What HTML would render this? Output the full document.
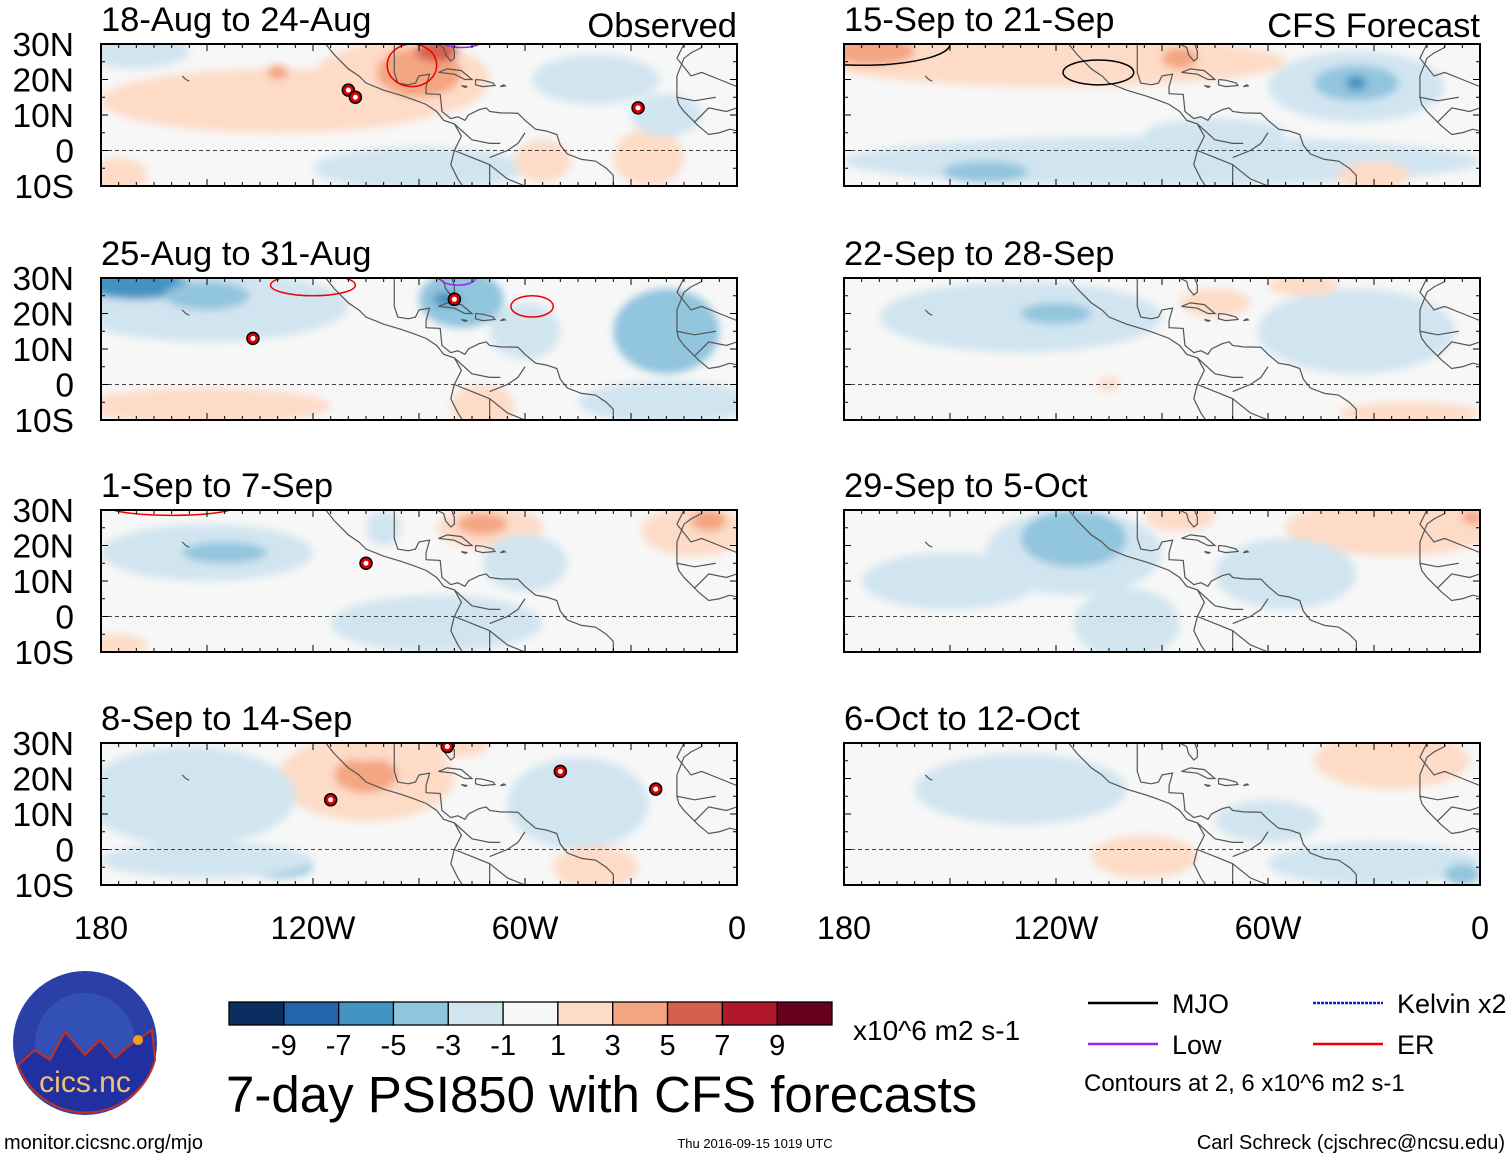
<!DOCTYPE html>
<html><head><meta charset="utf-8">
<style>
body{margin:0;background:#fff;width:1510px;height:1158px;overflow:hidden;font-family:"Liberation Sans",sans-serif}
svg{position:absolute;left:0;top:0}
</style></head><body>
<svg id="s" width="1510" height="1158" viewBox="0 0 1510 1158">
<defs>
<filter id="bl" x="-20%" y="-20%" width="140%" height="140%"><feGaussianBlur stdDeviation="4"/></filter>
<clipPath id="cl"><rect x="0" y="0" width="636" height="142"/></clipPath>
</defs>
</svg>
<script>
const NS='http://www.w3.org/2000/svg';
const svg=document.getElementById('s');
function mk(t,a,p){const e=document.createElementNS(NS,t);for(const k in a)e.setAttribute(k,a[k]);(p||svg).appendChild(e);return e;}
const colors=['#0b2e60','#2166ac','#4393c3','#92c5de','#d1e5f0','#f7f7f7','#fddbc7','#f4a582','#d6604d','#b2182b','#67001f'];
const barLabels=['-9','-7','-5','-3','-1','1','3','5','7','9'];
const panelTitles=['18-Aug to 24-Aug','25-Aug to 31-Aug','1-Sep to 7-Sep','8-Sep to 14-Sep','15-Sep to 21-Sep','22-Sep to 28-Sep','29-Sep to 5-Oct','6-Oct to 12-Oct'];
const latLabels=['30N','20N','10N','0','10S'];
const lonLabels=['180','120W','60W','0'];
// blobs: [westLon, lat, rxDeg, ryDeg, colorIndex]
const blobs=[
[[25,-2,10,8,6],[170,28,15,5,4],[130,14,50,9,6],[95,20,25,11,6],[90,22,12,7,7],[85,28,6,3,8],[40,20,18,7,4],[20,10,10,6,4],[90,-5,30,6,4],[55,-3,8,6,6],[175,-7,8,5,6],[130,22,3,2,7]],
[[150,22,40,10,4],[170,28,15,4,2],[150,25,12,4,3],[78,24,12,8,3],[82,24,4,2,2],[20,15,15,12,3],[150,-6,35,5,6],[72,-6,9,6,6],[20,-5,25,6,4],[60,15,10,8,4]],
[[150,18,30,8,4],[145,18,12,3,3],[100,25,5,5,4],[70,25,15,6,6],[72,26,7,3,7],[12,24,15,7,6],[8,27,5,3,7],[85,-2,30,8,4],[60,15,12,8,4],[175,-8,8,3,6]],
[[105,20,25,12,6],[105,21,9,5,7],[80,29,10,3,6],[155,15,30,14,4],[45,13,20,13,4],[40,-5,12,6,6],[130,-5,10,3,3],[150,-3,30,5,4],[105,28,10,3,6]],
[[120,25,65,7,6],[172,28,12,4,7],[85,26,5,3,7],[35,18,25,10,4],[35,19,12,5,3],[35,19,3,2,2],[90,-3,90,7,4],[140,-6,12,3,3],[30,-7,10,4,6],[75,5,20,4,4]],
[[130,19,40,10,4],[120,20,10,3,3],[35,15,28,12,4],[75,23,10,4,6],[20,-8,20,3,6],[50,28,10,3,6],[105,0,3,2,6]],
[[115,18,25,12,4],[115,22,15,8,3],[25,25,30,8,6],[2,28,3,2,7],[55,12,20,10,4],[150,10,25,8,4],[85,28,10,4,6],[100,-2,15,10,4]],
[[130,17,30,10,4],[25,25,22,8,6],[95,-2,15,6,6],[30,-4,30,6,4],[5,-7,5,3,3],[60,8,15,6,4]]
];
const storms=[[[110,17],[108,15],[28,12]],[[137,13],[80,24]],[[105,15]],[[82,29],[115,14],[50,22],[23,17]],[],[],[],[]];
const coast=[[[118,32],[114,27],[110,23],[107,21],[105,19],[100,17],[95,15.5],[92,14.5],[88,13],[85,11],[83,8.5],[80,7.5],[78,4],[80,0],[81,-4],[79,-8],[77,-11]],
[[97,31],[97,26],[97,22],[96,19],[93,18.5],[91,19],[90,21],[87,21.5],[88,18],[88,16],[84,15.8],[83.5,11],[81,9],[79,9.5],[77,8.5],[76,10],[73,11.5],[71,12],[70,11],[67,10.6],[62,10.5],[60,8.5],[57,6],[54,5.5],[51,4.5],[50,1.5],[48,-1],[44,-2.5],[40,-3],[37,-5],[35,-7],[35,-10]],
[[90,30],[85,30],[83,29],[82.5,27],[81,25.2],[80,26],[80,28],[81,30.5],[81,32]],
[[84.5,22],[82,23],[78,22.5],[75,20],[77,20],[80,21.5],[84.5,22]],
[[74,20],[72,19.8],[69,19],[68.5,18.3],[72,18],[74,18.5],[74,20]],[[67,18],[65.6,18.2],[66,18.5],[67,18]],[[78,18.3],[76.3,18],[77,17.8],[78,18.3]],
[[10,31],[10,29],[13,27.5],[15,26],[17,21],[17,15],[16.5,13],[15,11],[13,9],[11,7],[8,4.5],[5,5],[2,6],[0,5.5]],
[[157,21],[156,20],[155,19.5]],[[80,0],[75,-2],[70,-4],[70,-10]],[[70,-4],[65,-8],[60,-10]],[[60,5],[62,2],[65,0],[70,-2]],[[80,7.5],[75,3],[70,2],[67,2]],[[15,30],[17,26],[13,21],[10,22],[5,20],[0,18]],[[12,8],[8,12],[3,11],[0,12]],[[17,15],[12,14],[6,15]]
];
const contours=[
[[92,24,7,6,'#e00'],[78,31,6,2,'#a020f0']],
[[120,28,12,3,'#e00'],[58,22,6,3,'#e00'],[79,30,5,2,'#a020f0']],
[[160,31,18,2.5,'#e00']],
[],
[[108,22,10,3.5,'#000'],[175,30,25,6,'#000']],[],[],[]
];
const panels=[[101,44],[101,278],[101,510],[101,743],[844,44],[844,278],[844,510],[844,743]];
const W=636,H=142;
const px=w=>(180-w)/180*W, py=l=>(30-l)/40*H;
panels.forEach((p,i)=>{
  const g=mk('g',{transform:`translate(${p[0]},${p[1]})`});
  
  
  const inner=mk('g',{'clip-path':'url(#cl)'},g);
  mk('rect',{x:0,y:0,width:W,height:H,fill:'#f7f7f7'},inner);
  const bg=mk('g',{filter:'url(#bl)'},inner);
  blobs[i].forEach(b=>{
    const e=mk('ellipse',{cx:px(b[0]),cy:py(b[1]),rx:b[2]/180*W,ry:b[3]/40*H,fill:colors[b[4]]},bg);
    
    
  });
  coast.forEach(c=>{mk('polyline',{points:c.map(q=>px(q[0])+','+py(q[1])).join(' '),fill:'none',stroke:'#555','stroke-width':1.2},inner);});
  mk('line',{x1:0,x2:W,y1:py(0),y2:py(0),stroke:'#444','stroke-dasharray':'4,3','stroke-width':1},inner);
  contours[i].forEach(c=>{const e=mk('ellipse',{cx:px(c[0]),cy:py(c[1]),rx:c[2]/180*W,ry:c[3]/40*H,fill:'none',stroke:c[4],'stroke-width':1.5},inner);
    });
  storms[i].forEach(s=>{const e=mk('circle',{cx:px(s[0]),cy:py(s[1]),r:6,fill:'#d00',stroke:'#000','stroke-width':1.5},inner);
    
    mk('circle',{cx:px(s[0]),cy:py(s[1]),r:2.5,fill:'#fff'},inner);});
  mk('rect',{x:0,y:0,width:W,height:H,fill:'none',stroke:'#000','stroke-width':2},g);
  for(let k=0;k<=36;k++){const x=k*W/36,len=k%6==0?7:4;mk('line',{x1:x,x2:x,y1:0,y2:len,stroke:'#000'},g);mk('line',{x1:x,x2:x,y1:H,y2:H-len,stroke:'#000'},g);}
  for(let k=0;k<=8;k++){const y=k*H/8,len=k%2==0?7:4;mk('line',{x1:0,x2:len,y1:y,y2:y,stroke:'#000'},g);mk('line',{x1:W,x2:W-len,y1:y,y2:y,stroke:'#000'},g);}
  const t=mk('text',{x:0,y:-13,'font-size':34.5},g);t.textContent=panelTitles[i];
  
  if(i<4){latLabels.forEach((l,k)=>{const tt=mk('text',{x:-27,y:k*H/4+12,'font-size':33.5,'text-anchor':'end'},g);tt.textContent=l;
    });}
  if(i==3||i==7){lonLabels.forEach((l,k)=>{const tt=mk('text',{x:k*W/3,y:H+54,'font-size':32.5,'text-anchor':'middle'},g);tt.textContent=l;
    });}
});
function txt(x,y,s,str,anchor,name){const t=mk('text',{x:x,y:y,'font-size':s,'text-anchor':anchor||'start'});t.textContent=str;return t;}
txt(737,37,34.5,'Observed','end','observed-label');
txt(1480,37,34.5,'CFS Forecast','end','forecast-label');
const cb=mk('g',{});
const bw=603/colors.length;
colors.forEach((c,k)=>{mk('rect',{x:229+k*bw,y:1002,width:bw,height:23,fill:c,stroke:'#000','stroke-width':1.3},cb);});
barLabels.forEach((l,k)=>{const t=mk('text',{x:229+(k+1)*bw,y:1055,'font-size':29,'text-anchor':'middle'},cb);t.textContent=l;});
txt(853,1040,28,'x10^6 m2 s-1','start','colorbar-units');
txt(226,1112,51,'7-day PSI850 with CFS forecasts','start','main-title');
txt(4,1149,20,'monitor.cicsnc.org/mjo','start','source-url');
txt(755,1148,13,'Thu 2016-09-15 1019 UTC','middle','timestamp');
txt(1505,1149,20,'Carl Schreck (cjschrec@ncsu.edu)','end','author');
[[1088,1003,'#000','MJO','0'],[1088,1044,'#a020f0','Low','0'],[1313,1003,'#1020e0','Kelvin x2','3,1'],[1313,1044,'#e00','ER','0']].forEach(l=>{
  const g=mk('g',{});
  mk('line',{x1:l[0],x2:l[0]+70,y1:l[1],y2:l[1],stroke:l[2],'stroke-width':2.5,'stroke-dasharray':l[4]},g);
  const t=mk('text',{x:l[0]+84,y:l[1]+10,'font-size':27},g);t.textContent=l[3];});
txt(1084,1091,24,'Contours at 2, 6 x10^6 m2 s-1','start','contour-note');
const lg=mk('g',{});
mk('circle',{cx:85,cy:1043,r:72,fill:'#2a40a8'},lg);
mk('circle',{cx:85,cy:1043,r:50,fill:'#3a5cc0',opacity:0.6},lg);
mk('path',{d:'M18,1065 L35,1050 L50,1060 L65,1032 L85,1055 L100,1040 L115,1058 L130,1045 L152,1030 L155,1060 A72,72 0 0 1 18,1065 Z',fill:'#2030a0',stroke:'#c03020','stroke-width':2},lg);
mk('circle',{cx:138,cy:1040,r:5,fill:'#f0a020'},lg);
const lt=mk('text',{x:85,y:1092,'font-size':30,'text-anchor':'middle',fill:'#f5c070'},lg);lt.textContent='cics.nc';
</script>
</body></html>
